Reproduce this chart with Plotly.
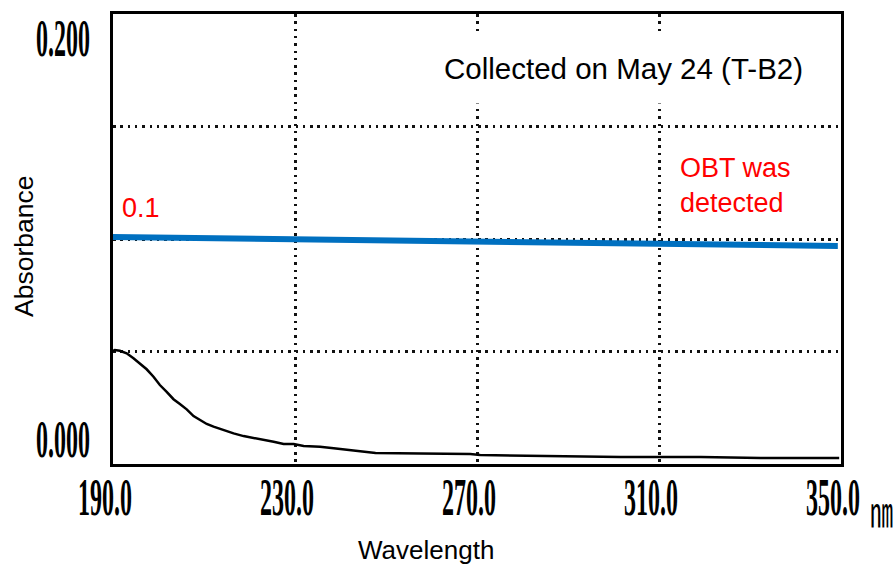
import plotly.graph_objects as go

# ---------------- data ----------------
wavelength_nm = [190.0, 190.4, 191.5, 193.0, 194.5, 195.9, 197.4, 198.9, 200.3, 201.8,
                 203.3, 204.7, 206.2, 207.7, 209.1, 210.6, 212.1, 213.5, 215.0, 216.5,
                 218.7, 220.9, 223.1, 225.3, 227.5, 229.7, 231.9, 235.5, 238.5, 242.1,
                 247.7, 257.6, 268.5, 270.7, 286.2, 301.6, 319.2, 332.4, 349.6]
absorbance = [0.0503, 0.0507, 0.0503, 0.0492, 0.0470, 0.0448, 0.0421, 0.0388, 0.0351, 0.0321,
              0.0288, 0.0267, 0.0243, 0.0213, 0.0196, 0.0178, 0.0166, 0.0156, 0.0147, 0.0136,
              0.0124, 0.0116, 0.0109, 0.0099, 0.0089, 0.0089, 0.0080, 0.0077, 0.0070, 0.0062,
              0.0049, 0.0047, 0.0044, 0.0040, 0.0036, 0.0031, 0.0031, 0.0027, 0.0027]

level_x = [190.0, 349.3]          # hand-drawn blue "0.1" line
level_y = [0.1009, 0.0969]

x_range = [190, 350]
y_range = [0.0, 0.2]
x_grid = [230, 270, 310]
y_grid = [0.05, 0.10, 0.15]

x_tick_vals = [190, 230, 270, 310, 350]
x_tick_text = ["190.0", "230.0", "270.0", "310.0", "350.0"]
x_unit = "㎚"
y_tick_vals = [0.2, 0.0]
y_tick_text = ["0.200", "0.000"]

title_text = "Collected on May 24 (T-B2)"
level_text = "0.1"
note_text = "OBT was<br>detected"
x_title = "Wavelength"
y_title = "Absorbance"

# ---------------- figure ----------------
fig = go.Figure()
fig.add_trace(go.Scatter(x=wavelength_nm, y=absorbance, mode="lines",
                         line=dict(color="#000000", width=2.5), hoverinfo="skip",
                         showlegend=False))
fig.add_trace(go.Scatter(x=level_x, y=level_y, mode="lines",
                         line=dict(color="#0070C0", width=6), hoverinfo="skip",
                         showlegend=False))

sans = "Liberation Sans, Arial, sans-serif"
serif = "Liberation Serif, Times New Roman, serif"

annotations = []
stretch = {}
for v, t in zip(x_tick_vals, x_tick_text):
    stretch[len(annotations)] = 2.2
    annotations.append(dict(x=v, xref="x", y=0, yref="paper", text="<b>" + t + "</b>",
                            showarrow=False, xanchor="center", yanchor="middle",
                            xshift=-8, yshift=-33,
                            font=dict(family=serif, size=24, color="#000000")))
stretch[len(annotations)] = 1.8
annotations.append(dict(x=x_tick_vals[-1], xref="x", y=0, yref="paper", text=x_unit,
                        showarrow=False, xanchor="center", yanchor="middle",
                        xshift=40, yshift=-45,
                        font=dict(family="Noto Sans CJK JP, sans-serif", size=23,
                                  color="#000000")))
for v, t in zip(y_tick_vals, y_tick_text):
    stretch[len(annotations)] = 2.2
    annotations.append(dict(x=0, xref="paper", y=v, yref="y", text="<b>" + t + "</b>",
                            showarrow=False, xanchor="center", yanchor="middle", xshift=-50,
                            yshift=(-24 if v == max(y_tick_vals) else 25),
                            font=dict(family=serif, size=24, color="#000000")))

annotations += [
    dict(x=0.4533, y=0.8778, xref="paper", yref="paper", text=title_text,
         showarrow=False, xanchor="left", yanchor="middle", bgcolor="#ffffff",
         borderpad=18, xshift=-18,
         font=dict(family=sans, size=29.5, color="#000000")),
    dict(x=0.0096, y=0.5696, xref="paper", yref="paper", text=level_text,
         showarrow=False, xanchor="left", yanchor="middle",
         font=dict(family=sans, size=27, color="#FF0000")),
    dict(x=0.776, y=0.6178, xref="paper", yref="paper", text=note_text,
         showarrow=False, xanchor="left", yanchor="middle", align="left",
         font=dict(family=sans, size=27, color="#FF0000")),
    dict(x=-0.1223, y=0.4844, xref="paper", yref="paper", text=y_title,
         showarrow=False, textangle=-90, xanchor="center", yanchor="middle",
         font=dict(family=sans, size=26.5, color="#000000")),
    dict(x=0.4306, y=-0.1911, xref="paper", yref="paper", text=x_title,
         showarrow=False, xanchor="center", yanchor="middle",
         font=dict(family=sans, size=26, color="#000000")),
]

axis_common = dict(showline=True, linecolor="#000000", linewidth=2.5, mirror=True,
                   showgrid=True, gridcolor="#111111", gridwidth=2.5,
                   griddash="2.5px,4.8px", zeroline=False, ticks="",
                   showticklabels=False, tickmode="array", fixedrange=True)

fig.update_layout(
    width=895, height=566, autosize=False,
    margin=dict(l=113, r=54, t=14, b=102),
    paper_bgcolor="#ffffff", plot_bgcolor="#ffffff",
    xaxis=dict(range=x_range, tickvals=x_grid, **axis_common),
    yaxis=dict(range=y_range, tickvals=y_grid, **axis_common),
    annotations=annotations,
    showlegend=False,
)

stretch_js = "{" + ",".join('"%d":%s' % (k, v) for k, v in stretch.items()) + "}"
post = """
var gd = document.getElementById('{plot_id}');
var sf = %s;
function stretchLabels(){
  Object.keys(sf).forEach(function(i){
    var t = gd.querySelector('g.annotation[data-index="' + i + '"] text.annotation-text');
    if(!t || t.getAttribute('data-stretched')) return;
    var b = t.getBBox();
    var cy = b.y + b.height / 2;
    var prev = t.getAttribute('transform') || '';
    t.setAttribute('transform', prev + ' translate(0,' + cy + ') scale(1,' + sf[i] + ') translate(0,' + (-cy) + ')');
    t.setAttribute('data-stretched', '1');
  });
}
stretchLabels();
gd.on('plotly_afterplot', stretchLabels);
""" % stretch_js

fig.write_html("out.html", post_script=post, config={"displayModeBar": False})
